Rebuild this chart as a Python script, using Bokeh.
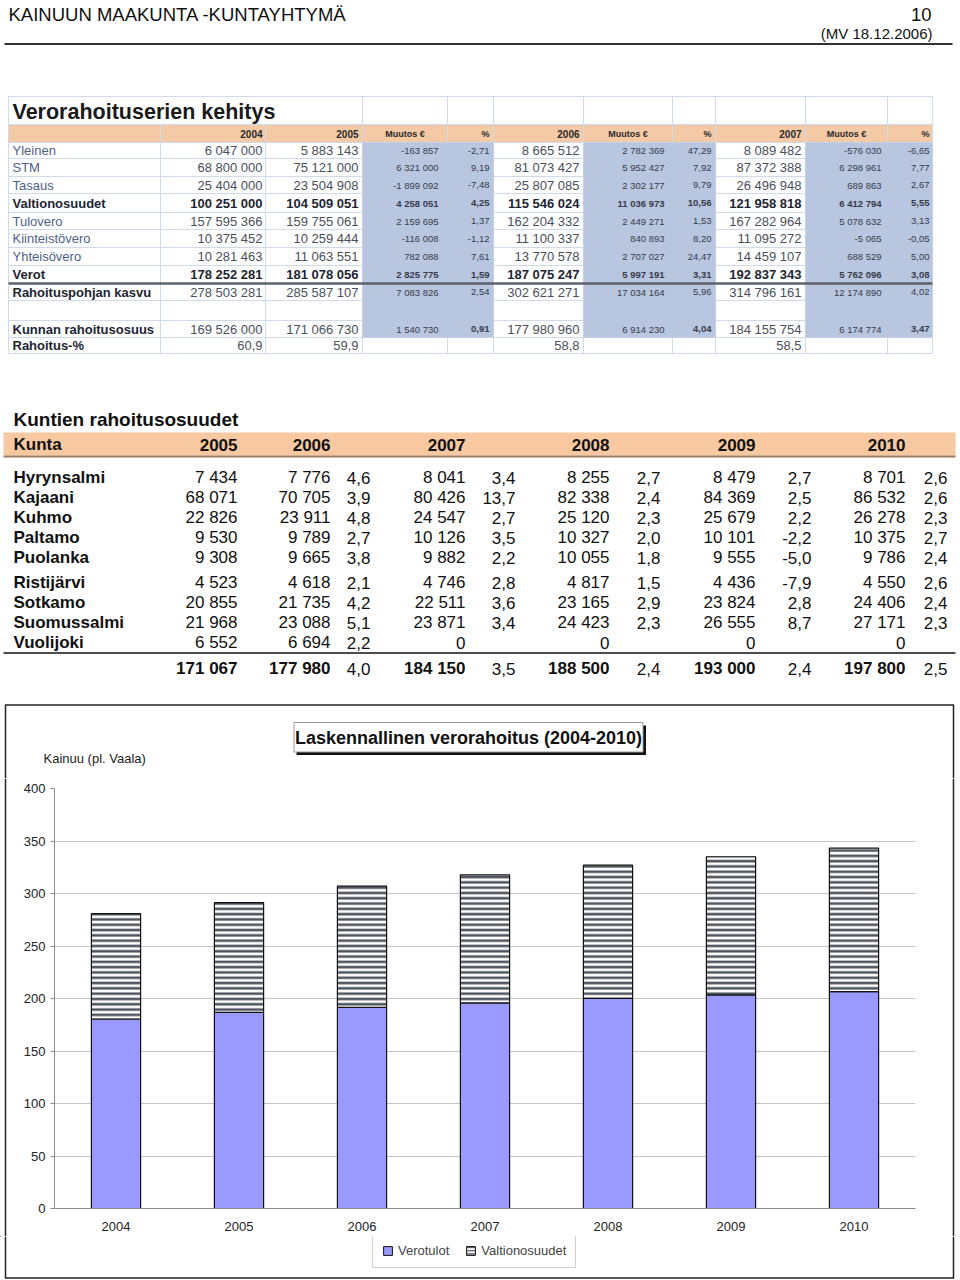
from bokeh.plotting import figure
from bokeh.models import (Range1d, FactorRange, Legend, LegendItem,
                          ColumnDataSource, FixedTicker)
from bokeh.layouts import column, row
from bokeh.core.properties import value
from bokeh.transform import stack
from bokeh.embed import file_html
from bokeh.resources import INLINE

FONT = "Liberation Sans"

# ---------------- page header ----------------
page_title = "KAINUUN MAAKUNTA -KUNTAYHTYMÄ"
page_no = "10"
page_date = "(MV 18.12.2006)"

# ---------------- spreadsheet: Verorahoituserien kehitys ----------------
ss_title = "Verorahoituserien kehitys"
ss_header = ["2004", "2005", "Muutos €", "%", "2006", "Muutos €", "%", "2007", "Muutos €", "%"]
ss_labels = ["Yleinen", "STM", "Tasaus", "Valtionosuudet", "Tulovero", "Kiinteistövero",
             "Yhteisövero", "Verot", "Rahoituspohjan kasvu", "", "Kunnan rahoitusosuus", "Rahoitus-%"]
ss_bold_rows = [False, False, False, True, False, False, False, True, False, False, False, False]
ss_bold_labels = [False, False, False, True, False, False, False, True, True, False, True, True]
ss_2004 = [6047000, 68800000, 25404000, 100251000, 157595366, 10375452, 10281463, 178252281, 278503281, None, 169526000, 60.9]
ss_2005 = [5883143, 75121000, 23504908, 104509051, 159755061, 10259444, 11063551, 181078056, 285587107, None, 171066730, 59.9]
ss_ch05 = [-163857, 6321000, -1899092, 4258051, 2159695, -116008, 782088, 2825775, 7083826, None, 1540730, None]
ss_pct05 = [-2.71, 9.19, -7.48, 4.25, 1.37, -1.12, 7.61, 1.59, 2.54, None, 0.91, None]
ss_2006 = [8665512, 81073427, 25807085, 115546024, 162204332, 11100337, 13770578, 187075247, 302621271, None, 177980960, 58.8]
ss_ch06 = [2782369, 5952427, 2302177, 11036973, 2449271, 840893, 2707027, 5997191, 17034164, None, 6914230, None]
ss_pct06 = [47.29, 7.92, 9.79, 10.56, 1.53, 8.20, 24.47, 3.31, 5.96, None, 4.04, None]
ss_2007 = [8089482, 87372388, 26496948, 121958818, 167282964, 11095272, 14459107, 192837343, 314796161, None, 184155754, 58.5]
ss_ch07 = [-576030, 6298961, 689863, 6412794, 5078632, -5065, 688529, 5762096, 12174890, None, 6174774, None]
ss_pct07 = [-6.65, 7.77, 2.67, 5.55, 3.13, -0.05, 5.00, 3.08, 4.02, None, 3.47, None]

# ---------------- table: Kuntien rahoitusosuudet ----------------
t2_title = "Kuntien rahoitusosuudet"
t2_header = ["Kunta", "2005", "2006", "2007", "2008", "2009", "2010"]
t2_kunta = ["Hyrynsalmi", "Kajaani", "Kuhmo", "Paltamo", "Puolanka",
            "Ristijärvi", "Sotkamo", "Suomussalmi", "Vuolijoki"]
t2_2005 = [7434, 68071, 22826, 9530, 9308, 4523, 20855, 21968, 6552]
t2_2006 = [7776, 70705, 23911, 9789, 9665, 4618, 21735, 23088, 6694]
t2_p06 = [4.6, 3.9, 4.8, 2.7, 3.8, 2.1, 4.2, 5.1, 2.2]
t2_2007 = [8041, 80426, 24547, 10126, 9882, 4746, 22511, 23871, 0]
t2_p07 = [3.4, 13.7, 2.7, 3.5, 2.2, 2.8, 3.6, 3.4, None]
t2_2008 = [8255, 82338, 25120, 10327, 10055, 4817, 23165, 24423, 0]
t2_p08 = [2.7, 2.4, 2.3, 2.0, 1.8, 1.5, 2.9, 2.3, None]
t2_2009 = [8479, 84369, 25679, 10101, 9555, 4436, 23824, 26555, 0]
t2_p09 = [2.7, 2.5, 2.2, -2.2, -5.0, -7.9, 2.8, 8.7, None]
t2_2010 = [8701, 86532, 26278, 10375, 9786, 4550, 24406, 27171, 0]
t2_p10 = [2.6, 2.6, 2.3, 2.7, 2.4, 2.6, 2.4, 2.3, None]
t2_tot = [171067, 177980, 184150, 188500, 193000, 197800]
t2_tot_p = [4.0, 3.5, 2.4, 2.4, 2.5]

# ---------------- chart: Laskennallinen verorahoitus ----------------
chart_title = "Laskennallinen verorahoitus (2004-2010)"
chart_sub = "Kainuu (pl. Vaala)"
years = ["2004", "2005", "2006", "2007", "2008", "2009", "2010"]
verotulot = [180.5, 186.8, 191.6, 195.8, 200.2, 203.4, 206.6]
valtionosuudet = [100.3, 104.5, 115.5, 122.0, 126.8, 131.6, 136.6]
y_ticks = [0, 50, 100, 150, 200, 250, 300, 350, 400]
series_names = ["Verotulot", "Valtionosuudet"]

BLUE = "#9999ff"
HATCH = dict(hatch_pattern="horizontal_line", hatch_color="#50555f",
             hatch_weight=2.6, hatch_scale=5.3)
BOX_C = "#222222"


def fint(v):
    if v is None:
        return ""
    s = f"{abs(int(v)):,}".replace(",", " ")
    return ("-" if v < 0 else "") + s


def fdec(v, n):
    if v is None:
        return ""
    return f"{v:.{n}f}".replace(".", ",")


def canvas_fig(w, h):
    f = figure(width=w, height=h, x_range=Range1d(0, w), y_range=Range1d(h, 0),
               output_backend="svg", toolbar_location=None, min_border=0)
    f.axis.visible = False
    f.grid.visible = False
    f.outline_line_color = None
    f.frame_align = False
    return f


W = 960
H1 = 778
top = canvas_fig(W, H1)


def txt(f, xs, ys, texts, size, align="left", bold=False, color="#000000"):
    keep = [(x, y, t) for x, y, t in zip(xs, ys, texts) if t != ""]
    if not keep:
        return
    src = ColumnDataSource(dict(x=[k[0] for k in keep], y=[k[1] for k in keep],
                                t=[k[2] for k in keep]))
    f.text(x="x", y="y", text="t", source=src, text_font=value(FONT),
           text_font_size=value(f"{size}px"), text_align=align, text_baseline="middle",
           text_font_style="bold" if bold else "normal", text_color=color)


def seg(f, x1, y1, x2, y2, color, w):
    f.segment(x0=[x1], y0=[y1], x1=[x2], y1=[y2], line_color=color, line_width=w)


def box(f, l, r, t, b, color, line=None, lw=1):
    f.quad(left=[l], right=[r], top=[t], bottom=[b], fill_color=color,
           line_color=line, line_width=lw)


# page header
txt(top, [8], [13.5], [page_title], 18.5, color="#111111")
txt(top, [931], [13.5], [page_no], 18.5, align="right", color="#111111")
txt(top, [932], [33], [page_date], 15, align="right", color="#111111")
seg(top, 4, 43.5, 952, 43.5, "#333333", 2)

# spreadsheet image
col_b = [8, 160, 265, 362, 447, 493, 583, 672, 715, 805, 887, 932]
row_b = [96, 124, 142, 158, 176, 193, 212, 229, 247, 265, 283, 300, 320, 337, 353]
grid_c = "#cfdaea"
box(top, 8, 932, 124, 142, "#f4c9a6")
for x in col_b:
    y_start = 96 if x >= 362 or x == 8 else 124
    seg(top, x, y_start, x, 353, grid_c, 1)
for y in row_b:
    seg(top, 8, y, 932, y, grid_c, 1)
for l, r in [(362, 493), (583, 715), (805, 932)]:
    box(top, l, r, 142, 337, "#b9c6e0")
seg(top, 8, 283, 932, 283, "#5d626c", 2.5)

txt(top, [12], [111], [ss_title], 21.5, bold=True, color="#1a1a1a")
year_right = {0: 262, 1: 358, 4: 579, 7: 801}
pct_right = {3: 489, 6: 711, 9: 929}
ch_center = {2: 404.5, 5: 627.5, 8: 846}
for i, h in enumerate(ss_header):
    if i in year_right:
        txt(top, [year_right[i]], [133], [h], 10, align="right", bold=True, color="#2a2a2a")
    elif i in ch_center:
        txt(top, [ch_center[i]], [133], [h], 9, align="center", bold=True, color="#2a2a2a")
    else:
        txt(top, [pct_right[i]], [133], [h], 9, align="right", bold=True, color="#2a2a2a")

row_cy = [(row_b[i + 2] + row_b[i + 3]) / 2 for i in range(len(ss_labels))]
for i, lab in enumerate(ss_labels):
    cy = row_cy[i]
    bl = ss_bold_labels[i]
    txt(top, [12], [cy], [lab], 13, bold=bl, color="#1d2533" if bl else "#4d5f8a")
    b = ss_bold_rows[i]
    vcol = "#1d2533" if b else "#4a4f5c"
    last = (ss_labels[i] == "Rahoitus-%")
    big = [(262, ss_2004[i]), (358, ss_2005[i]), (579, ss_2006[i]), (801, ss_2007[i])]
    for xr, v in big:
        s = fdec(v, 1) if last else fint(v)
        txt(top, [xr], [cy], [s], 13, align="right", bold=b, color=vcol)
    for xr, v in [(438, ss_ch05[i]), (664, ss_ch06[i]), (881, ss_ch07[i])]:
        txt(top, [xr], [cy], [fint(v)], 9.5, align="right", bold=b, color="#363b48")
    pb = b or ss_labels[i] == "Kunnan rahoitusosuus"
    for xr, v in [(489, ss_pct05[i]), (711, ss_pct06[i]), (929, ss_pct07[i])]:
        txt(top, [xr], [cy], [fdec(v, 2)], 9.5, align="right", bold=pb, color="#363b48")

# Kuntien rahoitusosuudet
txt(top, [13], [419], [t2_title], 19, bold=True, color="#111111")
box(top, 3, 955, 432, 455, "#f8c8a0")
seg(top, 3, 456, 955, 456, "#9a7a60", 2)
hdr_x = [13, 237, 330, 465, 609, 755, 905]
for i, h in enumerate(t2_header):
    txt(top, [hdr_x[i]], [444], [h], 17, align="left" if i == 0 else "right",
        bold=True, color="#111111")
mid = [477, 497, 517, 537, 557, 582, 602, 622, 642]
txt(top, [13] * len(t2_kunta), mid, t2_kunta, 17, bold=True, color="#111111")
num_cols = [(237, t2_2005), (330, t2_2006), (465, t2_2007), (609, t2_2008), (755, t2_2009), (905, t2_2010)]
pct_cols = [(370, t2_p06), (515, t2_p07), (660, t2_p08), (811, t2_p09), (947, t2_p10)]
for xr, vals in num_cols:
    txt(top, [xr] * len(vals), mid, [fint(v) for v in vals], 17, align="right", color="#111111")
for xr, vals in pct_cols:
    txt(top, [xr] * len(vals), mid, [fdec(v, 1) for v in vals], 17, align="right", color="#111111")
seg(top, 3, 652.5, 955, 652.5, "#111111", 1.5)
txt(top, [c[0] for c in num_cols], [668] * 6, [fint(v) for v in t2_tot], 17, align="right",
    bold=True, color="#111111")
txt(top, [c[0] for c in pct_cols], [668] * 5, [fdec(v, 1) for v in t2_tot_p], 17, align="right",
    color="#111111")

# chart frame (upper part), title box, sub-title
seg(top, 5, 704.5, 953, 704.5, BOX_C, 1.5)
seg(top, 5, 704, 5, H1, BOX_C, 1.5)
seg(top, 953, 704, 953, H1, BOX_C, 1.5)
box(top, 296, 645.5, 725, 754.5, "#111111")
box(top, 293.5, 642.5, 722, 751.5, "white", line="#9a9a9a", lw=1)
txt(top, [468], [737], [chart_title], 18, align="center", bold=True, color="#111111")
txt(top, [43], [758], [chart_sub], 13, color="#222222")

# ---------------- chart ----------------
H2 = 458
CW = 943
p = figure(width=CW, height=H2, x_range=FactorRange(*years), y_range=Range1d(0, 400),
           output_backend="svg", toolbar_location=None,
           min_border_left=46, min_border_right=36, min_border_top=10, min_border_bottom=28)
p.frame_align = False
p.outline_line_color = None
p.xgrid.grid_line_color = None
p.ygrid.grid_line_color = "#c4c4c4"
p.ygrid.grid_line_width = 1
p.yaxis.ticker = FixedTicker(ticks=y_ticks)
p.yaxis.minor_tick_line_color = None
p.yaxis.major_tick_in = 0
p.yaxis.major_tick_out = 4
p.yaxis.major_label_standoff = 5
for ax in (p.xaxis[0], p.yaxis[0]):
    ax.axis_line_color = "#8a8a8a"
    ax.major_tick_line_color = "#8a8a8a"
    ax.major_label_text_font = FONT
    ax.major_label_text_font_size = "13px"
    ax.major_label_text_color = "#222222"
p.xaxis.major_tick_line_color = None
p.xaxis.major_label_standoff = 7

src = ColumnDataSource(dict(year=years, verotulot=verotulot, valtionosuudet=valtionosuudet))
p.vbar(x="year", bottom=0, top="verotulot", width=0.4, source=src,
       fill_color=BLUE, line_color="#111111", line_width=1.2)
p.vbar(x="year", bottom=stack("verotulot"), top=stack("verotulot", "valtionosuudet"),
       width=0.4, source=src, fill_color="white", line_color="#111111", line_width=1.2, **HATCH)

# side strips carrying the chart's outer frame
left = canvas_fig(8, H2)
seg(left, 5, 0, 5, H2, BOX_C, 1.5)
right = canvas_fig(W - 8 - CW, H2)
seg(right, 2, 0, 2, H2, BOX_C, 1.5)

# ---------------- legend strip ----------------
H3 = 1280 - H1 - H2
leg = canvas_fig(W, H3)
seg(leg, 5, 0, 5, H3 - 2, BOX_C, 1.5)
seg(leg, 953, 0, 953, H3 - 2, BOX_C, 1.5)
seg(leg, 5, H3 - 2.5, 953, H3 - 2.5, BOX_C, 1.5)
# legend swatches: renderers styled like the bars, drawn outside the visible range
off = ColumnDataSource(dict(x=[-500], top=[-400], bottom=[-500]))
lr1 = leg.vbar(x="x", top="top", bottom="bottom", width=1, source=off,
               fill_color=BLUE, line_color="#111111", line_width=1)
lr2 = leg.vbar(x="x", top="top", bottom="bottom", width=1, source=off,
               fill_color="white", line_color="#111111", line_width=1,
               hatch_pattern="horizontal_line", hatch_color="#50555f",
               hatch_weight=1.6, hatch_scale=3.2)
legend = Legend(items=[LegendItem(label=series_names[0], renderers=[lr1]),
                       LegendItem(label=series_names[1], renderers=[lr2])],
                orientation="horizontal", location=(372, H3 - 32), margin=0, padding=9,
                spacing=16, glyph_width=11, glyph_height=11, label_standoff=5,
                label_text_font=FONT, label_text_font_size="13px",
                border_line_color="#a0a0a0", border_line_width=1.2,
                background_fill_color="white")
leg.add_layout(legend)

layout = column(top, row(left, p, right, spacing=0), leg, spacing=0)
open("out.html", "w").write(file_html(layout, INLINE))
